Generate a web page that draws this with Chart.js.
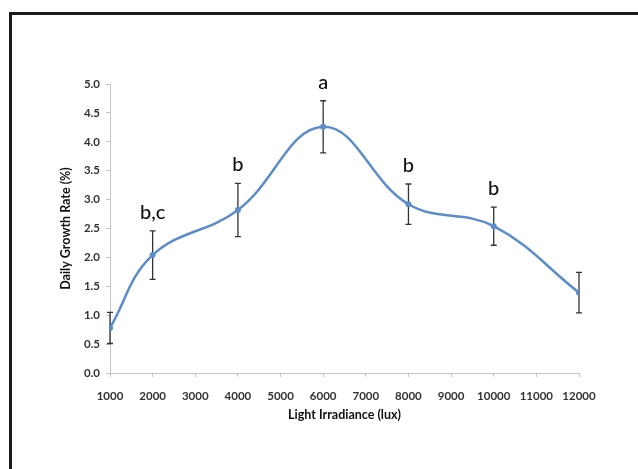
<!DOCTYPE html>
<html>
<head>
<meta charset="utf-8">
<script src="https://cdn.jsdelivr.net/npm/chart.js@4.4.1/dist/chart.umd.min.js"></script>
<style>
    html, body { margin: 0; padding: 0; background: #fff; overflow: hidden; }
    #wrap { position: relative; width: 638px; height: 469px; }
    #frame {
        position: absolute; left: 9px; top: 12px; width: 700px; height: 600px;
        border-left: 3px solid #1a1a1a; border-top: 3px solid #1a1a1a;
    }
    canvas { position: absolute; left: 0; top: 0; }
</style>
</head>
<body>
<div id="wrap">
    <div id="frame"></div>
    <canvas id="growthChart" width="638" height="469"></canvas>
</div>
<script>
// Light irradiance vs daily growth rate, with SD error bars and significance letters

const irradiance = [1000, 2000, 4000, 6000, 8000, 10000, 12000];
const growthRate = [0.78, 2.04, 2.82, 4.26, 2.92, 2.54, 1.39];
const growthErr  = [0.27, 0.42, 0.46, 0.45, 0.35, 0.33, 0.35];
const sigLetters = ['', 'b,c', 'b', 'a', 'b', 'b', ''];

const xTicks = [1000, 2000, 3000, 4000, 5000, 6000, 7000, 8000, 9000, 10000, 11000, 12000];
const yTicks = [0, 0.5, 1, 1.5, 2, 2.5, 3, 3.5, 4, 4.5, 5];

const LINE_BLUE = '#5b8ccb';
const AXIS_GREY = '#c3c3c3';
const TEXT_DARK = '#333';

const errorBars = {
    id: 'errorBars',
    beforeDatasetsDraw(chart) {
        const { ctx, scales: { x, y } } = chart;
        ctx.save();
        ctx.strokeStyle = '#333';
        ctx.lineWidth = 1.3;
        irradiance.forEach((xv, i) => {
            const px = x.getPixelForValue(xv);
            const top = y.getPixelForValue(growthRate[i] + growthErr[i]);
            const bot = y.getPixelForValue(growthRate[i] - growthErr[i]);
            ctx.beginPath();
            ctx.moveTo(px, top); ctx.lineTo(px, bot);
            ctx.moveTo(px - 3, top); ctx.lineTo(px + 3, top);
            ctx.moveTo(px - 3, bot); ctx.lineTo(px + 3, bot);
            ctx.stroke();
        });
        ctx.restore();
    },
    afterDatasetsDraw(chart) {
        const { ctx, scales: { x, y } } = chart;
        ctx.save();
        ctx.fillStyle = '#111';
        ctx.font = '500 20px Lato, "Open Sans", sans-serif';
        ctx.textAlign = 'center';
        ctx.textBaseline = 'alphabetic';
        sigLetters.forEach((txt, i) => {
            if (!txt) return;
            const px = x.getPixelForValue(irradiance[i]);
            const top = y.getPixelForValue(growthRate[i] + growthErr[i]);
            ctx.fillText(txt, px, top - 12);
        });
        ctx.restore();
    }
};

new Chart(document.getElementById('growthChart').getContext('2d'), {
    type: 'line',
    data: {
        datasets: [{
            data: irradiance.map((v, i) => ({ x: v, y: growthRate[i] })),
            borderColor: LINE_BLUE,
            backgroundColor: LINE_BLUE,
            borderWidth: 2.5,
            tension: 0.4,
            pointRadius: 3,
            pointStyle: 'circle',
            pointBorderWidth: 0,
            fill: false,
        }],
    },
    options: {
        responsive: false,
        animation: false,
        devicePixelRatio: 1,
        layout: { padding: { left: 58, right: 59, top: 84, bottom: 47 } },
        plugins: { legend: { display: false }, tooltip: { enabled: false } },
        scales: {
            x: {
                type: 'linear',
                min: 1000, max: 12000,
                afterBuildTicks: s => { s.ticks = xTicks.map(v => ({ value: v })); },
                afterFit: s => { s.height = 49; },
                ticks: {
                    color: TEXT_DARK, padding: 12, maxRotation: 0, autoSkip: false,
                    font: { family: 'Lato', weight: 'bold', size: 11.5 },
                    callback: v => String(v),
                },
                grid: { drawOnChartArea: false, drawTicks: true, tickLength: 4, color: AXIS_GREY },
                border: { color: AXIS_GREY, width: 1 },
                title: {
                    display: true, text: 'Light Irradiance (lux)', color: '#111',
                    font: { family: 'Lato', weight: 'bold', size: 12.5 }, padding: 0,
                },
            },
            y: {
                min: 0, max: 5,
                afterBuildTicks: s => { s.ticks = yTicks.map(v => ({ value: v })); },
                afterFit: s => { s.width = 52; },
                ticks: {
                    color: TEXT_DARK, padding: 6,
                    font: { family: 'Lato', weight: 'bold', size: 11.5 },
                    callback: v => Number(v).toFixed(1),
                },
                grid: { drawOnChartArea: false, drawTicks: true, tickLength: 4, color: AXIS_GREY },
                border: { color: AXIS_GREY, width: 1 },
                title: {
                    display: true, text: 'Daily Growth Rate (%)', color: '#111',
                    font: { family: 'Lato', weight: 'bold', size: 12.5 }, padding: 0,
                },
            },
        },
    },
    plugins: [errorBars],
});
</script>
</body>
</html>
